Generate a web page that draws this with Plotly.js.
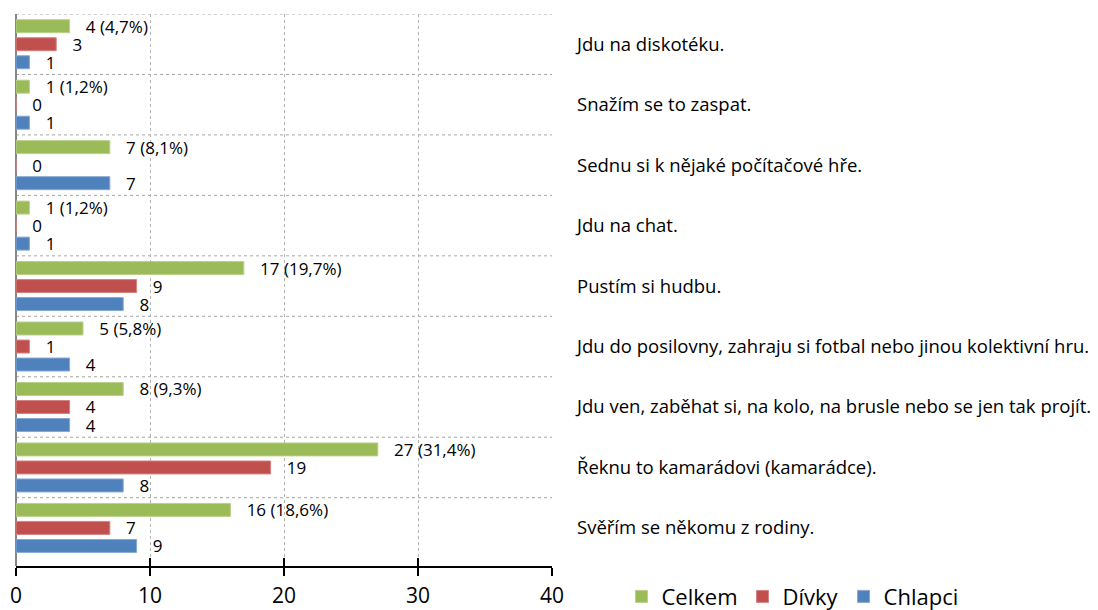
<!DOCTYPE html>
<html>
<head>
<meta charset="utf-8">
<script src="https://cdn.plot.ly/plotly-3.0.1.min.js"></script>
<style>html,body{margin:0;padding:0;background:#fff;}#chart{width:1098px;height:610px;}</style>
</head>
<body>
<div id="chart"></div>
<script>
var categories = [
  "Jdu na diskotéku.",
  "Snažím se to zaspat.",
  "Sednu si k nějaké počítačové hře.",
  "Jdu na chat.",
  "Pustím si hudbu.",
  "Jdu do posilovny, zahraju si fotbal nebo jinou kolektivní hru.",
  "Jdu ven, zaběhat si, na kolo, na brusle nebo se jen tak projít.",
  "Řeknu to kamarádovi (kamarádce).",
  "Svěřím se někomu z rodiny."
];
var celkem = [4, 1, 7, 1, 17, 5, 8, 27, 16];
var celkemPct = [4.7, 1.2, 8.1, 1.2, 19.7, 5.8, 9.3, 31.4, 18.6];
var divky = [3, 0, 0, 0, 9, 1, 4, 19, 7];
var chlapci = [1, 1, 7, 1, 8, 4, 4, 8, 9];
var seriesNames = ["Celkem", "Dívky", "Chlapci"];
var xTicks = [0, 10, 20, 30, 40];

var FONT = "'Open Sans', sans-serif";
var PAD = "\u00A0\u00A0\u00A0";

function mk(name, vals, labels, color, lineColor) {
  return {
    type: "bar", orientation: "h", name: name,
    y: categories, x: vals,
    text: labels.map(function (t) { return PAD + t; }),
    textposition: "outside", cliponaxis: false, constraintext: "none",
    textfont: {family: FONT, size: 17, color: "#000"},
    marker: {color: color, line: {color: lineColor, width: 1}},
    hoverinfo: "x+y+name"
  };
}

var traces = [
  mk(seriesNames[0], celkem, celkem.map(function (v, i) { return v + " (" + celkemPct[i].toFixed(1).replace(".", ",") + "%)"; }), "#9BBB59", "#b9d08a"),
  mk(seriesNames[1], divky, divky.map(String), "#C0504D", "#d48482"),
  mk(seriesNames[2], chlapci, chlapci.map(String), "#4F81BD", "#86a8d2")
];
// overlay axis for inside tick halves (cross ticks)
traces.push({type: "scatter", x: [0], y: [categories[0]], xaxis: "x2", mode: "markers", marker: {opacity: 0}, showlegend: false, hoverinfo: "skip"});

var shapes = [];
for (var i = -1; i < categories.length - 1; i++) {
  shapes.push({type: "line", xref: "paper", yref: "y", x0: 0, x1: 1, y0: i + 0.5, y1: i + 0.5,
    line: {color: "#a6a6a6", width: 1, dash: "dot"}, layer: "below"});
}

var layout = {
  width: 1098, height: 610,
  margin: {l: 16, r: 546, t: 14, b: 44},
  paper_bgcolor: "#fff", plot_bgcolor: "#fff",
  barmode: "group", bargap: 0.106, bargroupgap: 0.28,
  font: {family: FONT, color: "#000"},
  showlegend: true,
  legend: {orientation: "h", xref: "container", yref: "container", x: 0.566, y: 0.022,
    xanchor: "left", yanchor: "middle", traceorder: "normal",
    font: {family: FONT, size: 22, color: "#000"}, itemwidth: 30, tracegroupgap: 0},
  xaxis: {range: [0, 40], tickvals: xTicks, ticktext: xTicks.map(String),
    showgrid: true, gridcolor: "#b3b3b3", griddash: "dot", gridwidth: 1,
    zeroline: true, zerolinecolor: "#868686", zerolinewidth: 2,
    showline: true, linecolor: "#000", linewidth: 2,
    ticks: "outside", ticklen: 8, tickwidth: 2, tickcolor: "#000",
    ticklabelstandoff: 2,
    tickfont: {family: FONT, size: 21, color: "#000"}, fixedrange: true},
  xaxis2: {overlaying: "x", anchor: "y", side: "bottom", range: [0, 40], tickvals: xTicks,
    showticklabels: false, showgrid: false, zeroline: false, showline: false,
    ticks: "inside", ticklen: 8, tickwidth: 2, tickcolor: "#000"},
  yaxis: {type: "category", categoryorder: "array", categoryarray: categories,
    range: [8.63, -0.5], side: "right", showgrid: false, zeroline: false, showline: false,
    ticks: "", ticklabelstandoff: 24,
    tickfont: {family: FONT, size: 18.5, color: "#000"}, fixedrange: true},
  shapes: shapes
};

Plotly.newPlot("chart", traces, layout, {displayModeBar: false, staticPlot: true});
</script>
</body>
</html>
